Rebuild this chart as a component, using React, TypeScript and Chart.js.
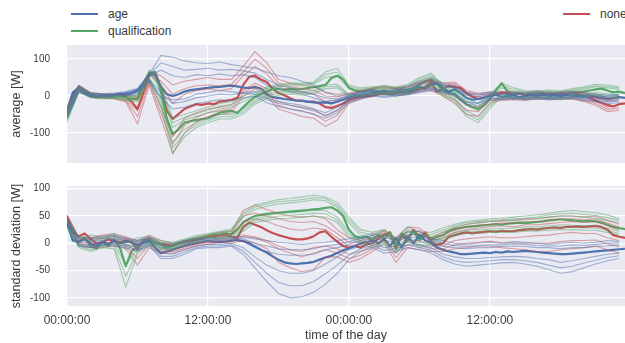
import React, { useEffect, useRef } from "react";
import { Chart, registerables } from "chart.js";
Chart.register(...registerables);

// ---------- data ----------
const hours = [0,0.5,1,1.5,2,2.5,3,3.5,4,4.5,5,5.5,6,6.5,7,7.5,8,8.5,9,9.5,10,10.5,11,11.5,12,12.5,13,13.5,14,14.5,15,15.5,16,16.5,17,17.5,18,18.5,19,19.5,20,20.5,21,21.5,22,22.5,23,23.5,24,24.5,25,25.5,26,26.5,27,27.5,28,28.5,29,29.5,30,30.5,31,31.5,32,32.5,33,33.5,34,34.5,35,35.5,36,36.5,37,37.5,38,38.5,39,39.5,40,40.5,41,41.5,42,42.5,43,43.5,44,44.5,45,45.5,46,46.5,47,47.5];
const hoursCoarse = [0,1,2,3,4,5,6,7,8,9,10,11,12,13,14,15,16,17,18,19,20,21,22,23,24,25,26,27,28,29,30,31,32,33,34,35,36,37,38,39,40,41,42,43,44,45,46,47];

const xTickHours = [0, 12, 24, 36];
const xTickLabels = ["00:00:00", "12:00:00", "00:00:00", "12:00:00"];
const avgTicks = [-100, 0, 100];
const stdTicks = [-100, -50, 0, 50, 100];
const legendLabels = ["age", "qualification", "none"];

// average panel – group means
const avgAge = [-40,10,22,10,4,-2,3,2,3,5, 6,8,15,35,60,58,25,5,0,5, 12,16,18,20,22,24,25,27,28,26, 23,22,24,20,5,-3,-5,-8,-10,-12, -13,-15,-17,-18,-17,-20,-15,-10,-4,0, 3,6,8,10,6,5,8,10,12,18, 25,20,30,35,22,12,18,8,-5,-10, -8,-5,0,3,-2,0,2,-3,0,2, 0,3,-1,2,0,3,1,0,-2,-1, -3,-5,-8,-6,-3,-5];
const avgQual = [-55,0,20,8,2,-4,0,-3,-2,-1, -4,-8,-8,30,62,65,10,-60,-103,-90, -72,-68,-65,-62,-60,-52,-45,-42,-40,-46, -30,-15,-3,5,12,18,19,17,20,18, 19,22,24,27,30,48,55,45,22,15, 12,14,15,13,16,12,14,18,16,22, 32,40,45,30,15,8,5,-10,-22,-30, -35,-25,-8,15,35,12,5,8,2,6, 3,8,4,6,2,5,8,10,12,15, 18,20,15,10,12,8];
const avgNone = [-45,5,25,12,5,-3,2,-2,0,1, -2,-15,-35,10,55,65,20,-40,-62,-48, -35,-28,-22,-24,-20,-22,-15,-13,-10,-5, 30,52,55,45,38,20,8,2,-6,-12, -12,-16,-15,-20,-30,-32,-27,-20,-10,-5, -2,0,0,5,10,8,10,12,10,14, 19,25,38,12,20,27,24,22,8,-2, -8,-4,0,4,10,8,3,8,2,5, 5,2,7,4,8,5,8,3,0,-5, -12,-18,-24,-28,-22,-20];

// average panel – individual runs
const avgAgeRun1 = [-35,28,8,6,8,12,20,60,110,105,95,90,88,92,85,80,75,65,55,50,40,30,10,0,5,12,18,15,20,25,40,50,35,28,10,5,12,8,10,8,12,8,10,12,8,5,3,5];
const avgAgeRun2 = [-45,18,2,4,5,8,15,55,70,55,50,58,55,60,55,58,50,30,20,12,5,-5,-15,-10,0,8,12,10,14,18,30,38,28,22,2,-2,5,3,5,2,6,3,5,6,2,0,-3,0];
const avgAgeRun3 = [-50,15,0,0,2,3,10,45,10,-20,-15,-5,0,5,3,10,12,-5,-15,-20,-25,-35,-45,-30,-10,-2,4,2,5,8,18,22,15,8,-15,-18,-5,-6,-3,-5,-2,-5,-3,-2,-6,-8,-12,-10];
const avgAgeRun4 = [-60,10,-3,-2,0,0,5,40,-5,-35,-30,-20,-15,-10,-12,-5,0,-18,-28,-35,-40,-50,-60,-45,-18,-8,0,-4,0,3,10,15,8,0,-22,-25,-12,-10,-8,-10,-8,-10,-8,-7,-12,-15,-20,-18];
const avgAgeRun5 = [-38,24,6,5,6,10,18,58,90,80,70,72,75,70,72,68,62,45,30,22,12,5,-5,-8,2,10,14,12,16,20,35,42,30,24,6,2,8,5,7,5,9,5,7,9,5,2,0,2];
const avgAgeRun6 = [-55,12,-1,0,1,2,8,42,-2,-10,-8,5,10,15,12,8,5,-10,-20,-25,-32,-40,-52,-38,-15,-5,2,-2,2,5,14,18,12,4,-18,-20,-8,-8,-5,-7,-5,-7,-5,-4,-9,-12,-16,-14];
const avgQualRun1 = [-40,28,8,4,3,2,0,70,30,-60,-50,-40,-30,-20,-15,0,10,25,32,35,35,38,65,75,30,22,25,28,25,32,50,62,30,20,-5,-20,5,35,22,15,14,16,14,20,25,32,30,25];
const avgQualRun2 = [-50,22,4,1,0,-3,-3,62,18,-85,-65,-55,-45,-35,-30,-15,0,18,25,28,28,32,50,55,20,15,20,22,20,25,42,52,22,10,-20,-40,-5,22,12,8,8,10,8,12,18,25,22,18];
const avgQualRun3 = [-60,16,0,-4,-4,-8,-10,50,-10,-125,-90,-72,-62,-50,-50,-35,-12,5,12,14,12,15,30,32,5,5,8,10,8,12,28,35,8,-5,-40,-55,-22,8,0,-3,-2,0,-4,2,5,10,6,3];
const avgQualRun4 = [-70,10,-4,-8,-6,-12,-15,42,-30,-155,-110,-85,-72,-62,-62,-48,-22,-5,2,5,2,5,20,22,-2,-2,2,4,0,5,18,25,0,-15,-55,-72,-35,0,-8,-10,-8,-6,-10,-5,-2,2,-3,-5];
const avgQualRun5 = [-45,25,6,2,1,0,-2,66,24,-72,-58,-48,-38,-28,-22,-8,5,22,28,32,32,35,58,65,25,18,22,25,22,28,46,57,26,15,-12,-30,0,28,17,12,11,13,11,16,22,28,26,22];
const avgQualRun6 = [-65,13,-2,-6,-5,-10,-12,46,-20,-140,-100,-78,-67,-56,-56,-42,-17,0,7,10,7,10,25,27,2,2,5,7,4,8,23,30,4,-10,-48,-64,-28,4,-4,-6,-5,-3,-7,-2,2,6,2,-1];
const avgNoneRun1 = [-30,30,10,6,5,5,0,65,55,30,40,45,50,45,45,80,120,90,45,35,30,25,10,5,8,15,22,28,22,28,38,45,35,38,15,8,10,12,12,10,14,10,12,14,10,5,-5,-2];
const avgNoneRun2 = [-40,26,6,3,2,0,-10,60,30,-20,5,15,20,15,20,55,80,60,25,15,10,5,-15,-10,0,10,18,22,18,22,32,40,28,30,5,-2,3,5,5,3,6,4,5,8,3,-5,-15,-10];
const avgNoneRun3 = [-50,20,0,-3,-4,-8,-40,40,-30,-110,-60,-45,-35,-30,-25,15,35,20,-15,-25,-30,-35,-55,-40,-10,0,8,12,8,12,20,25,10,0,-25,-30,-8,-6,-4,-6,-3,-5,-4,-2,-8,-15,-30,-25];
const avgNoneRun4 = [-60,15,-4,-6,-8,-15,-75,30,-60,-155,-100,-70,-55,-50,-45,0,20,0,-35,-45,-55,-60,-82,-65,-20,-8,0,5,0,5,12,15,0,-20,-50,-55,-18,-12,-10,-12,-8,-10,-9,-8,-15,-25,-42,-38];
const avgNoneRun5 = [-35,28,8,4,3,2,-5,62,40,5,20,28,30,28,32,65,100,75,35,25,20,15,0,-2,4,12,20,25,20,25,35,42,32,34,10,3,6,8,8,6,10,7,8,11,6,0,-10,-6];
const avgNoneRun6 = [-55,18,-2,-5,-6,-12,-55,35,-45,-130,-80,-58,-45,-40,-35,8,28,10,-25,-35,-42,-48,-68,-52,-15,-4,4,8,4,8,16,20,5,-10,-38,-42,-12,-9,-7,-9,-5,-8,-6,-5,-12,-20,-36,-32];

// standard deviation panel – group means
const stdAge = [40,5,3,8,0,-5,3,-2,5,0, 3,2,-3,0,4,-8,-18,-15,-12,-8, -5,-2,0,2,4,3,2,3,5,6, 4,0,-6,-12,-17,-24,-30,-35,-37,-38, -37,-36,-34,-30,-26,-23,-18,-13,-9,-5, 0,2,5,0,8,-5,10,-8,12,0, 15,5,0,-8,-12,-15,-17,-20,-20,-19, -18,-17,-18,-16,-17,-15,-16,-15,-14,-15, -16,-17,-18,-19,-20,-20,-19,-18,-17,-16, -15,-14,-13,-12,-11,-10];
const stdQual = [35,6,2,10,-5,-10,2,-5,6,-8, -42,-15,-5,2,5,0,-3,-8,-5,0, 3,6,8,10,12,15,16,18,17,25, 38,45,50,52,54,55,56,57,58,59, 60,61,62,63,65,66,60,50,25,13, 10,12,5,15,8,20,-5,18,10,22, 5,15,8,12,15,22,26,28,30,31, 32,33,34,35,34,36,37,38,37,38, 39,40,42,43,44,43,42,41,40,41, 40,38,34,30,28,26];
const stdNone = [50,20,13,18,8,0,2,7,5,2, 5,2,-11,5,7,0,-2,-4,-4,0, 2,4,6,8,13,12,14,15,12,10, 30,38,34,30,24,19,15,12,9,7, 7,9,13,20,22,12,3,-5,-8,-5, -8,-2,0,8,15,20,-10,15,5,25, 10,20,2,-3,0,12,15,18,20,18, 20,21,22,21,23,22,22,24,25,26, 25,27,28,29,28,30,30,31,30,31, 32,30,25,15,12,10];

// standard deviation panel – individual runs
const stdAgeRun1 = [45,10,10,12,15,10,5,12,0,-2,5,8,10,10,12,12,8,5,2,0,-2,0,2,5,8,12,18,15,10,20,22,8,5,0,-2,0,2,0,3,2,0,-2,0,2,0,2,5,3];
const stdAgeRun2 = [42,5,3,5,8,5,0,6,-8,-10,-2,3,6,5,6,3,-8,-15,-20,-22,-22,-20,-12,-8,-2,5,10,5,2,12,10,2,-5,-8,-10,-8,-8,-6,-5,-6,-8,-8,-10,-8,-8,-6,-5,-3];
const stdAgeRun3 = [38,0,-3,0,2,-2,-8,0,-18,-20,-12,-5,-2,-2,0,-8,-25,-40,-50,-55,-55,-50,-38,-25,-12,-5,0,-8,-5,2,-3,-8,-20,-25,-28,-28,-26,-25,-24,-25,-28,-30,-35,-32,-28,-24,-20,-18];
const stdAgeRun4 = [35,-5,-8,-5,-5,-8,-15,-5,-28,-28,-20,-10,-8,-8,-5,-20,-45,-70,-92,-100,-98,-90,-75,-55,-30,-15,-8,-18,-15,-8,-12,-18,-30,-38,-42,-40,-38,-36,-35,-38,-42,-48,-55,-52,-45,-38,-32,-28];
const stdAgeRun5 = [44,8,7,9,12,8,3,9,-4,-6,2,6,8,8,9,8,0,-5,-10,-12,-12,-10,-5,-2,3,9,14,10,6,16,16,5,0,-4,-6,-4,-3,-3,-1,-2,-4,-5,-5,-3,-4,-2,0,0];
const stdAgeRun6 = [36,-3,-6,-3,-2,-5,-12,-3,-24,-24,-16,-8,-5,-5,-3,-14,-35,-55,-72,-78,-78,-70,-56,-40,-22,-10,-4,-13,-10,-3,-8,-13,-25,-32,-35,-34,-32,-30,-30,-32,-35,-40,-45,-42,-36,-31,-26,-23];
const stdQualRun1 = [45,12,15,12,18,0,10,12,5,2,8,14,18,22,26,55,70,75,80,82,85,88,85,75,48,25,20,25,5,30,20,20,28,35,40,42,45,46,48,50,52,55,58,60,58,56,52,45];
const stdQualRun2 = [40,8,5,6,10,-12,2,8,0,-2,5,10,15,19,22,48,62,68,72,74,76,80,78,66,38,15,10,18,-2,22,12,12,20,30,35,37,40,40,42,43,45,48,50,50,48,46,42,38];
const stdQualRun3 = [32,-2,-8,-2,0,-40,-10,2,-8,-8,0,5,9,12,14,30,45,50,55,56,58,60,60,48,22,5,0,5,-10,12,0,5,10,20,24,25,26,27,28,30,30,32,34,33,32,32,28,22];
const stdQualRun4 = [30,-8,-15,-8,-10,-80,-20,-3,-12,-12,-3,2,5,8,8,22,38,42,45,46,48,50,48,38,12,-2,-8,-2,-18,5,-8,-2,5,14,18,18,20,20,20,22,22,24,25,25,24,24,20,15];
const stdQualRun5 = [42,10,10,9,14,-6,6,10,2,0,6,12,16,20,24,52,66,72,76,78,80,84,82,70,43,20,15,22,2,26,16,16,24,32,38,40,42,43,45,46,48,52,54,55,53,51,47,42];
const stdQualRun6 = [31,-5,-12,-5,-5,-60,-15,0,-10,-10,-2,3,7,10,11,26,42,46,50,51,53,55,54,43,17,2,-4,2,-14,8,-4,2,8,17,21,21,23,23,24,26,26,28,30,29,28,28,24,18];
const stdNoneRun1 = [52,12,10,15,18,12,5,15,5,0,5,10,15,20,22,60,70,62,55,50,48,50,45,25,10,5,15,25,10,30,28,10,20,28,35,38,40,42,42,45,45,48,50,50,48,50,42,35];
const stdNoneRun2 = [50,8,5,8,10,6,-2,10,-2,-5,0,6,10,14,15,40,45,40,32,26,24,28,25,10,-5,-2,5,18,0,15,18,3,10,20,25,28,30,32,30,34,34,36,38,40,38,40,32,25];
const stdNoneRun3 = [48,2,0,0,3,-2,-15,2,-10,-12,-6,0,4,8,6,15,12,5,-5,-12,-15,-8,-5,-10,-20,-15,-5,8,-18,5,5,-5,-5,5,8,10,12,10,10,12,14,15,18,20,18,18,10,5];
const stdNoneRun4 = [45,-5,-8,-8,-5,-10,-40,-8,-18,-18,-12,-5,-2,2,0,5,0,-10,-35,-45,-52,-48,-25,-25,-35,-28,-15,0,-35,-8,-12,-15,-15,-10,-8,-5,-5,-8,-10,-12,-15,-15,-12,-10,-8,-5,-12,-18];
const stdNoneRun5 = [51,10,8,12,14,9,2,12,2,-2,2,8,12,17,18,50,55,50,45,40,38,40,32,18,2,2,10,22,5,22,23,6,15,24,30,33,35,37,36,40,40,42,44,45,43,45,37,30];
const stdNoneRun6 = [46,-2,-4,-4,-1,-6,-28,-3,-14,-15,-9,-2,1,5,3,12,10,2,-10,-18,-25,-18,-12,-18,-28,-22,-10,4,-26,-2,-4,-10,-10,-3,0,2,4,1,0,0,0,0,3,5,5,6,-1,-7];

// ---------- styling ----------
const BLUE = "76,114,176";
const GREEN = "85,168,104";
const RED = "196,78,82";
const TEXT = "#3a3a3a";
const FONT = "'Liberation Sans', Arial, Helvetica, sans-serif";

function pts(xs: number[], ys: number[]) {
  return xs.map((x, i) => ({ x, y: ys[i] }));
}

function buildDatasets(groups: { rgb: string; main: number[]; runs: number[][] }[]) {
  const thin: any[] = [];
  const thick: any[] = [];
  groups.forEach((g) => {
    g.runs.forEach((r) => {
      thin.push({
        data: pts(hoursCoarse, r),
        borderColor: `rgba(${g.rgb},0.5)`,
        borderWidth: 1.1,
        pointRadius: 0,
        tension: 0,
      });
    });
    thick.push({
      data: pts(hours, g.main),
      borderColor: `rgb(${g.rgb})`,
      borderWidth: 2.2,
      pointRadius: 0,
      tension: 0,
      borderJoinStyle: "round",
    });
  });
  return [...thin, ...thick];
}

const bgPlugin = {
  id: "plotBg",
  beforeDraw(chart: any) {
    const { ctx, chartArea } = chart;
    if (!chartArea) return;
    ctx.save();
    ctx.fillStyle = "#EAEAF2";
    ctx.fillRect(chartArea.left, chartArea.top, chartArea.right - chartArea.left, chartArea.bottom - chartArea.top);
    ctx.restore();
  },
};

function yAxis(min: number, max: number, ticks: number[], title: string) {
  return {
    type: "linear",
    min,
    max,
    afterBuildTicks: (s: any) => {
      s.ticks = ticks.map((v) => ({ value: v }));
    },
    afterFit: (s: any) => {
      s.width = 67;
    },
    ticks: { font: { size: 10, family: FONT }, color: TEXT, padding: 3 },
    grid: { color: "#ffffff", lineWidth: 1.2, drawTicks: true, tickLength: 14, tickColor: "rgba(0,0,0,0)" },
    border: { display: false },
    title: {
      display: true,
      text: title,
      color: TEXT,
      font: { size: 12.5, family: FONT },
      padding: { top: 9, bottom: 0 },
    },
  };
}

function xAxis(showLabels: boolean) {
  return {
    type: "linear",
    min: 0,
    max: 47.5,
    afterBuildTicks: (s: any) => {
      s.ticks = xTickHours.map((v) => ({ value: v }));
    },
    afterFit: (s: any) => {
      s.height = showLabels ? 37 : 0;
    },
    ticks: {
      display: showLabels,
      font: { size: 12, family: FONT },
      color: TEXT,
      padding: 7,
      maxRotation: 0,
      callback: (_v: any, i: number) => xTickLabels[i],
    },
    grid: { color: "#ffffff", lineWidth: 1.2, drawTicks: false },
    border: { display: false },
    title: {
      display: showLabels,
      text: "time of the day",
      color: TEXT,
      font: { size: 12.5, family: FONT },
      padding: { top: 0, bottom: 0 },
    },
  };
}

function makeChart(canvas: HTMLCanvasElement, datasets: any[], y: any, showX: boolean, padBottom: number) {
  return new Chart(canvas, {
    type: "line",
    data: { datasets },
    plugins: [bgPlugin],
    options: {
      animation: false,
      responsive: false,
      maintainAspectRatio: false,
      devicePixelRatio: 1,
      parsing: false,
      normalized: true,
      layout: { padding: { top: 9, bottom: padBottom, left: 0, right: 0 } },
      plugins: { legend: { display: false }, tooltip: { enabled: false } },
      scales: { x: xAxis(showX) as any, y },
    } as any,
  });
}

export default function App() {
  const topRef = useRef<HTMLCanvasElement>(null);
  const botRef = useRef<HTMLCanvasElement>(null);

  useEffect(() => {
    Chart.defaults.font.family = FONT;
    const top = makeChart(
      topRef.current!,
      buildDatasets([
        { rgb: BLUE, main: avgAge, runs: [avgAgeRun1, avgAgeRun2, avgAgeRun3, avgAgeRun4, avgAgeRun5, avgAgeRun6] },
        { rgb: GREEN, main: avgQual, runs: [avgQualRun1, avgQualRun2, avgQualRun3, avgQualRun4, avgQualRun5, avgQualRun6] },
        { rgb: RED, main: avgNone, runs: [avgNoneRun1, avgNoneRun2, avgNoneRun3, avgNoneRun4, avgNoneRun5, avgNoneRun6] },
      ]),
      yAxis(-181, 138, avgTicks, "average [W]"),
      false,
      9
    );
    const bot = makeChart(
      botRef.current!,
      buildDatasets([
        { rgb: BLUE, main: stdAge, runs: [stdAgeRun1, stdAgeRun2, stdAgeRun3, stdAgeRun4, stdAgeRun5, stdAgeRun6] },
        { rgb: GREEN, main: stdQual, runs: [stdQualRun1, stdQualRun2, stdQualRun3, stdQualRun4, stdQualRun5, stdQualRun6] },
        { rgb: RED, main: stdNone, runs: [stdNoneRun1, stdNoneRun2, stdNoneRun3, stdNoneRun4, stdNoneRun5, stdNoneRun6] },
      ]),
      yAxis(-115, 105, stdTicks, "standard deviation [W]"),
      true,
      0
    );
    return () => {
      top.destroy();
      bot.destroy();
    };
  }, []);

  const legendItem = (label: string, rgb: string, left: number, top: number) => (
    <div key={label} style={{ position: "absolute", left, top, height: 16, display: "flex", alignItems: "center" }}>
      <div style={{ width: 27, height: 2, background: `rgb(${rgb})` }} />
      <span style={{ marginLeft: 10, fontSize: 12, color: TEXT, fontFamily: FONT, whiteSpace: "nowrap" }}>{label}</span>
    </div>
  );

  return (
    <div
      style={{
        position: "fixed",
        left: 0,
        top: 0,
        width: 625,
        height: 343,
        overflow: "hidden",
        background: "#ffffff",
      }}
    >
      {legendItem(legendLabels[0], BLUE, 71, 6)}
      {legendItem(legendLabels[1], GREEN, 71, 23)}
      {legendItem(legendLabels[2], RED, 563, 6)}
      <canvas ref={topRef} width={625} height={136} style={{ position: "absolute", left: 0, top: 36, width: 625, height: 136 }} />
      <canvas ref={botRef} width={625} height={166} style={{ position: "absolute", left: 0, top: 177, width: 625, height: 166 }} />
    </div>
  );
}
